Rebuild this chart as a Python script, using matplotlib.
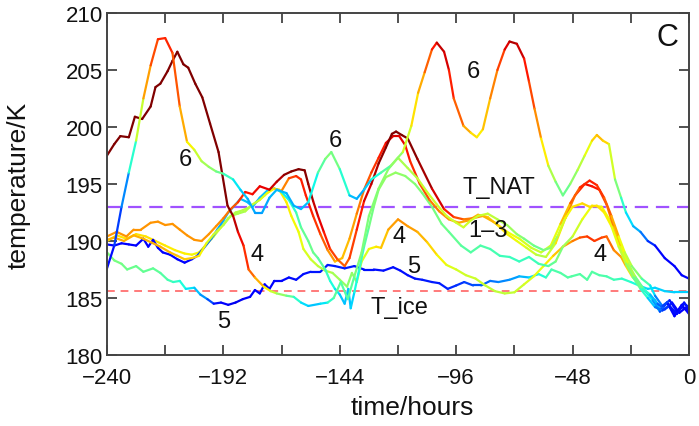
import numpy as np
import matplotlib
matplotlib.use("Agg")
import matplotlib.pyplot as plt
from matplotlib.collections import LineCollection
from matplotlib.ticker import MultipleLocator

plt.rcParams['font.family'] = ['Liberation Sans', 'DejaVu Sans']

# ---------------- data ----------------
# trajectory "6" (large peaks)
time_L1 = [-240,-237,-234,-231,-228,-225,-222,-219,-216,-213,-210,-207,-204,-201,-198,-195,-192,-188,-185,-182,
           -179,-176,-173,-170,-166,-163,-160,-157,-153,-150,-147.5,-144,-140,-137,-134,-131,-127,-123,-118,-114.5,
           -111.7,-109,-106,-104,-101,-99,-97,-93,-90,-87.5,-85,-82,-79,-76,-74,-71,-68,-66,-63.7,-61,
           -58,-55,-52,-49,-46,-43,-40,-38,-35.5,-33,-30.5,-28,-26,-23,-20,-17,-14,-10,-6,-3,0]
temp_L1 = [187.6,189.6,193.0,196.0,198.8,202.5,205.4,207.7,207.8,206.5,201.8,198.7,198.0,197.0,196.5,196.1,195.9,195.4,194.5,193.7,
           192.5,192.5,193.8,194.5,194.2,193.1,192.8,193.4,196.0,197.2,197.8,196.3,194.0,193.7,194.5,195.4,196.0,196.6,197.8,200.1,
           203.0,204.8,206.8,207.4,206.6,205.0,202.5,200.1,199.5,199.1,199.8,202.5,205.0,206.8,207.5,207.3,206.0,204.0,201.6,199.0,
           196.6,195.2,194.0,195.0,196.2,197.5,198.8,199.3,198.8,198.5,195.4,193.8,192.5,191.3,190.8,190.0,189.6,188.5,187.8,187.0,186.7]
cval_L1 = [0.12,0.15,0.22,0.30,0.50,0.68,0.80,0.86,0.88,0.86,0.78,0.68,0.62,0.56,0.54,0.50,0.46,0.38,0.33,0.31,
           0.28,0.28,0.30,0.31,0.30,0.30,0.30,0.32,0.42,0.49,0.52,0.46,0.33,0.29,0.30,0.35,0.42,0.49,0.56,0.64,
           0.70,0.76,0.85,0.93,0.95,0.90,0.85,0.76,0.70,0.65,0.67,0.74,0.80,0.88,0.95,0.96,0.90,0.87,0.80,0.72,
           0.60,0.52,0.46,0.50,0.55,0.60,0.66,0.72,0.70,0.66,0.55,0.45,0.36,0.32,0.28,0.20,0.14,0.12,0.10,0.12,0.14]

# trajectory starting dark red
time_L2 = [-240,-237,-234.5,-231,-228.5,-225.5,-222,-220,-218,-215,-213,-211,-208.5,-206.5,-203.6,-200.7,-197.5,-194,-190.3,-188,
           -186,-183.7,-181.6,-179,-175.4,-172.5,-170,-166,-163,-160,-157,-152,-149,-146.5,-143.6,-140.7,-138,-135,-132,-128,
           -124,-120,-116,-112,-108,-104,-100,-96,-93,-90,-87,-83,-79,-75,-71,-68,-64,-60,-57,-54,
           -51,-48,-44,-41,-38,-35,-32,-29,-26,-23,-20,-17,-14,-11,-8,-5,-2,0]
temp_L2 = [197.5,198.5,199.2,199.1,200.9,200.7,201.8,203.5,203.8,204.9,205.8,206.6,205.5,205.2,203.8,202.6,200.3,197.8,193.1,192.2,
           190.8,189.6,187.5,186.8,186.0,185.6,185.4,185.2,185.1,184.6,184.3,184.5,184.6,185.0,186.4,184.9,186.9,189.0,192.2,194.6,
           196.3,197.3,196.4,195.5,194.3,193.2,192.2,191.6,191.2,191.8,192.2,192.4,191.9,191.4,190.6,190.2,189.6,189.2,189.4,190.5,
           192.0,193.0,193.3,193.0,193.1,192.5,191.3,189.5,188.0,186.8,185.8,185.0,184.2,183.9,184.3,183.6,184.5,184.2]
cval_L2 = [1.0]*19 + [0.97,0.92,0.88,0.84,0.76,0.68,0.62,0.56,0.50,0.44,
           0.36,0.32,0.32,0.38,0.44,0.48,0.42,0.50,0.50,0.50,
           0.52,0.52,0.55,0.56,0.58,0.60,0.60,0.60,0.60,0.60,
           0.60,0.60,0.59,0.57,0.55,0.53,0.50,0.48,0.48,0.52,
           0.58,0.63,0.66,0.68,0.68,0.67,0.66,0.64,0.62,0.55,
           0.50,0.45,0.36,0.28,0.20,0.16,0.12,0.15,0.14]

# upper orange trajectory (becomes dark red)
time_L3 = [-240,-236,-232,-229,-226,-222,-219,-216,-213,-210,-207,-204,-201,-198,-195,-192,-189,-186,-183,-180,
           -177,-173,-170,-167,-164,-161,-158.5,-157,-155,-153,-150.6,-148,-145,-142,-140,-137,-134,-131,-128,-125,
           -122.5,-120.8,-118.5,-116,-112,-106,-101,-97,-93,-89,-85,-80,-75,-70,-65,-61,-57,-53,-49,-45,
           -41,-38,-35,-32,-29,-26.5,-23.6,-19.5,-16,-14,-11,-8,-5,-2,0]
temp_L3 = [190.4,190.8,190.4,191.0,191.0,191.6,191.7,191.4,191.5,191.0,190.5,190.1,190.0,190.6,191.3,192.0,192.8,193.4,194.3,194.1,
           194.8,194.5,195.2,195.8,196.1,196.3,196.2,195.0,193.5,192.2,190.8,189.3,188.4,187.8,188.5,191.0,193.5,195.0,196.8,198.2,
           199.4,199.6,199.3,199.0,197.2,194.6,192.8,192.1,191.9,192.0,192.2,191.6,190.8,190.2,189.4,189.0,189.6,191.5,193.3,194.7,
           195.3,194.9,193.8,192.2,190.4,189.0,187.8,186.7,186.1,185.2,184.3,184.8,183.8,184.6,184.0]
cval_L3 = [0.75]*15 + [0.77,0.80,0.84,0.88,0.90,0.90,0.92,0.94,0.97,1.0,
           1.0,1.0,0.98,0.95,0.92,0.90,0.86,0.82,0.80,0.82,
           0.86,0.90,0.94,0.97,1.0,1.0,1.0,1.0,1.0,0.98,
           0.95,0.90,0.85,0.80,0.76,0.74,0.70,0.66,0.62,0.60,
           0.58,0.60,0.66,0.76,0.85,0.88,0.87,0.84,0.78,0.68,
           0.60,0.55,0.48,0.40,0.30,0.20,0.18,0.10,0.15,0.12]

# lower orange trajectory
time_L4 = [-240,-237,-233,-229,-225,-222,-218,-214,-211,-208,-205,-202,-199,-196,-192,-189,-186,-183,-180,-177,
           -174,-171,-168,-165,-162,-160,-158,-155,-152,-149,-146,-143,-140,-137,-134,-131,-128,-125,-122,-119.5,
           -117,-115,-111,-107,-103,-99,-95,-91,-87,-83,-79,-75,-71,-67,-63,-59,-55,-51,-47,-43,
           -40,-37,-34,-31,-28,-25,-22,-19,-16,-13,-10,-7,-4,-1,0]
temp_L4 = [190.1,190.3,190.0,190.5,190.2,189.9,189.5,189.0,188.7,188.4,188.5,188.7,189.8,190.6,191.4,192.2,192.4,192.6,193.2,193.6,
           194.2,194.6,194.4,195.5,195.7,195.4,194.0,192.2,190.6,189.2,188.2,188.5,190.2,192.4,194.5,196.0,197.3,198.6,199.2,199.2,
           198.4,197.0,195.0,193.6,192.6,191.9,191.6,191.8,192.3,192.1,191.4,190.6,190.0,189.4,188.8,188.6,189.8,192.0,194.0,195.0,
           194.8,194.5,193.2,191.2,189.5,188.0,186.8,185.8,185.3,184.5,184.0,184.6,183.7,184.2,183.8]
cval_L4 = [0.72,0.72,0.73,0.72,0.72,0.72,0.72,0.72,0.70,0.70,
           0.69,0.67,0.63,0.60,0.58,0.56,0.55,0.56,0.58,0.60,
           0.63,0.66,0.72,0.82,0.86,0.87,0.88,0.87,0.84,0.78,
           0.72,0.70,0.72,0.76,0.80,0.84,0.87,0.89,0.92,0.92,
           0.90,0.88,0.85,0.80,0.77,0.75,0.74,0.73,0.72,0.70,
           0.68,0.66,0.64,0.62,0.58,0.56,0.62,0.72,0.84,0.90,
           0.90,0.88,0.82,0.74,0.66,0.60,0.52,0.45,0.36,0.26,
           0.18,0.14,0.10,0.14,0.12]

# blue -> cyan -> green trajectory
time_L5 = [-240,-237,-234,-231,-228,-225,-223,-221,-219,-217,-214,-211,-208,-205,-202.8,-200,-197,-194.5,-192,-190,
           -187,-185,-182,-180,-177,-174,-171,-168,-165,-162,-160,-157,-155,-153,-150,-148,-146,-144,-142,-140.5,
           -139.5,-138,-136,-134,-132,-130,-128,-125,-121,-117,-113,-110,-106,-102,-99,-94,-90,-86,-82,-78,
           -74,-70,-66,-62,-58,-55,-52,-48,-44,-40,-36,-32,-28,-25,-21,-18,-15,-12,-9,-6,-3,0]
temp_L5 = [189.7,189.6,189.8,189.7,189.6,190.2,189.5,190.1,189.4,189.0,188.8,188.4,188.1,188.4,188.7,189.4,190.2,191.0,191.8,192.5,
           193.2,193.7,193.4,193.0,193.8,194.4,194.6,194.3,193.6,192.5,191.2,190.0,189.0,188.5,187.5,186.5,185.8,185.3,184.5,185.8,
           184.1,185.5,187.5,189.5,191.2,193.0,194.5,195.6,196.0,195.7,195.0,194.2,193.0,191.5,190.8,189.6,189.0,189.6,189.3,188.7,
           188.6,188.2,188.6,188.0,187.8,188.2,189.5,190.4,191.9,193.1,193.0,191.6,189.3,187.7,186.5,185.6,184.8,183.8,184.6,183.4,184.4,183.6]
cval_L5 = [0.12]*14 + [0.16,0.21,0.25,0.28,0.30,0.31,
           0.32,0.32,0.31,0.31,0.31,0.32,0.33,0.35,0.38,0.42,
           0.46,0.48,0.48,0.47,0.44,0.40,0.36,0.33,0.31,0.32,
           0.32,0.35,0.40,0.44,0.48,0.50,0.52,0.53,0.53,0.52,
           0.51,0.50,0.50,0.49,0.48,0.46,0.45,0.45,0.44,0.43,
           0.42,0.42,0.42,0.43,0.45,0.48,0.52,0.58,0.62,0.65,
           0.65,0.64,0.60,0.55,0.48,0.40,0.32,0.22,0.16,0.10,0.14,0.10]

# trajectory "5" (green -> blue, low and flat)
time_L6 = [-240,-237,-234,-231.7,-228,-225,-221,-218,-215,-212.7,-210,-207.5,-204,-201.5,-198.6,-196,-193,-190,-187,-184,
           -181,-179,-177,-175,-173,-171,-168,-165,-162,-159,-156,-152,-149,-146,-142,-138,-134,-130,-126,-122,
           -119,-116,-113,-110,-106,-103,-99.5,-96,-92.7,-89,-85.7,-82,-78.6,-74,-70,-66,-62,-59,-56.7,-53,
           -50,-48.4,-45,-42,-40,-37,-34,-31,-27.7,-24,-20.7,-17,-14,-10,-6,-3,0]
temp_L6 = [189.0,188.3,188.0,187.5,187.8,187.3,187.6,187.2,186.6,186.4,186.5,185.8,185.9,185.3,184.9,184.5,184.6,184.4,184.6,184.9,
           185.1,185.7,185.4,186.2,185.8,186.5,186.5,186.8,186.6,187.1,187.3,187.3,187.9,187.8,187.6,187.8,187.5,187.5,187.4,187.7,
           187.4,187.0,186.7,186.6,186.4,186.3,185.8,186.1,186.4,186.1,186.1,186.5,186.4,186.6,186.9,186.8,187.1,186.8,187.5,187.2,
           186.8,186.9,187.1,186.6,187.3,187.0,186.9,186.6,186.7,186.4,186.1,185.8,185.9,185.6,185.5,185.5,185.5]
cval_L6 = [0.50,0.50,0.49,0.48,0.48,0.47,0.47,0.46,0.44,0.42,
           0.40,0.37,0.33,0.30,0.24,0.16,0.12,0.10,0.10,0.10,
           0.12,0.12,0.12,0.12,0.12,0.13,0.13,0.13,0.14,0.14,
           0.14,0.15,0.15,0.15,0.15,0.15,0.14,0.14,0.14,0.14,
           0.14,0.14,0.14,0.15,0.15,0.15,0.16,0.17,0.18,0.20,
           0.21,0.23,0.25,0.27,0.29,0.32,0.37,0.41,0.44,0.45,
           0.45,0.45,0.45,0.45,0.45,0.45,0.44,0.43,0.42,0.40,
           0.36,0.34,0.33,0.33,0.33,0.33,0.33]

# trajectory "4" (yellow/orange)
time_L7 = [-240,-236,-232,-228,-224,-220,-216,-212,-208,-205,-202,-199,-196,-193,-190,-187,-184,-181,-178,-175,
           -172,-169,-166,-164,-161,-159,-156,-153,-150,-147,-144,-141,-139,-137,-135,-132,-129,-127,-124,-120,
           -116,-112,-108,-104,-100,-96,-92,-88,-84,-80,-76,-72,-68,-64,-60,-56,-52,-48,-45,-42,
           -39,-36,-34,-31,-28,-26,-23.5,-20,-17,-14,-12,-9,-6,-3,0]
temp_L7 = [190.0,190.5,190.2,190.6,190.4,190.0,189.6,189.2,188.9,188.8,189.0,189.7,190.4,191.2,192.0,192.5,192.7,193.0,193.5,194.0,
           194.6,194.5,193.4,192.2,190.8,189.3,188.4,187.8,187.4,187.2,186.6,186.0,187.2,186.4,188.2,189.3,189.5,189.4,191.0,191.9,
           191.3,190.8,189.9,188.8,187.9,187.5,187.0,186.7,186.1,185.6,185.4,185.5,186.2,186.9,187.8,188.7,189.5,190.0,190.3,190.4,
           190.0,190.3,190.4,189.2,188.6,187.8,186.9,186.0,185.4,184.8,184.0,184.6,183.6,184.2,183.9]
cval_L7 = [0.66,0.66,0.67,0.67,0.67,0.67,0.66,0.66,0.66,0.65,
           0.64,0.62,0.60,0.58,0.57,0.56,0.57,0.58,0.60,0.62,
           0.65,0.66,0.66,0.65,0.64,0.62,0.60,0.58,0.57,0.56,
           0.54,0.52,0.52,0.54,0.58,0.64,0.66,0.68,0.72,0.76,
           0.75,0.73,0.70,0.66,0.63,0.61,0.60,0.60,0.59,0.58,
           0.58,0.59,0.60,0.62,0.64,0.68,0.72,0.77,0.80,0.86,
           0.85,0.84,0.82,0.78,0.74,0.70,0.65,0.55,0.46,0.36,
           0.26,0.18,0.12,0.15,0.12]

T_NAT = 193.0
T_ICE = 185.6

label_texts = ["6", "4", "5", "6", "4", "5", "6", "1\u20133", "4", "T_NAT", "T_ice"]
label_time = [-207.7, -178.0, -192.0, -145.7, -119.6, -113.4, -89.0, -82.8, -36.8, -78.6, -119.6]
label_temp = [197.2, 188.9, 183.0, 198.9, 190.4, 187.8, 204.9, 191.0, 188.9, 194.7, 184.2]

xticks_major = [-240, -192, -144, -96, -48, 0]
yticks_major = [180, 185, 190, 195, 200, 205, 210]

# ---------------- plot ----------------
fig = plt.figure(figsize=(6.99, 4.27), dpi=100)
ax = fig.add_axes([107/699, 1-356/427, 582/699, 342/427])
cmap = plt.get_cmap('jet')

lines = [(time_L6, temp_L6, cval_L6), (time_L7, temp_L7, cval_L7), (time_L5, temp_L5, cval_L5),
         (time_L4, temp_L4, cval_L4), (time_L3, temp_L3, cval_L3), (time_L2, temp_L2, cval_L2),
         (time_L1, temp_L1, cval_L1)]
for t, T, c in lines:
    assert len(t) == len(T) == len(c), (len(t), len(T), len(c))
    pts = np.column_stack([t, T])
    segs = np.stack([pts[:-1], pts[1:]], axis=1)
    cc = (np.asarray(c[:-1]) + np.asarray(c[1:])) / 2
    lc = LineCollection(segs, colors=cmap(cc), linewidths=1.6, capstyle='round', joinstyle='round')
    ax.add_collection(lc)

ax.axhline(T_NAT, color='#a052ff', lw=1.6, ls=(0, (6, 3.5)), zorder=1)
ax.axhline(T_ICE, color='#ff7a7a', lw=1.4, ls=(0, (4, 3)), zorder=1)

for s, x, y in zip(label_texts, label_time, label_temp):
    ax.text(x, y, s, fontsize=17, ha='center', va='center', color='#111111')
ax.text(0.963, 0.93, "C", transform=ax.transAxes, fontsize=22, ha='center', va='center', color='#111111')

ax.set_xlim(-240, 0)
ax.set_ylim(180, 210)
ax.set_xticks(xticks_major)
ax.set_xticklabels([f"{v}".replace("-", "\u2212") for v in xticks_major])
ax.xaxis.set_minor_locator(MultipleLocator(24))
ax.set_yticks(yticks_major)
ax.tick_params(which='both', direction='in', top=True, right=True, length=7, width=1.2,
               labelsize=16, colors='#333333', labelcolor='#111111')
ax.tick_params(axis='x', pad=9)
ax.tick_params(axis='y', pad=3)
for sp in ax.spines.values():
    sp.set_linewidth(1.4)
    sp.set_color('#444444')

ax.set_xlabel("time/hours", fontsize=19, color='#111111')
ax.set_ylabel("temperature/K", fontsize=19, color='#111111')
ax.xaxis.set_label_coords((412 - 107) / 582, (356 - 396) / 342)
ax.yaxis.set_label_coords((31 - 107) / 582, 0.5)

fig.savefig("out.png", dpi=100)
